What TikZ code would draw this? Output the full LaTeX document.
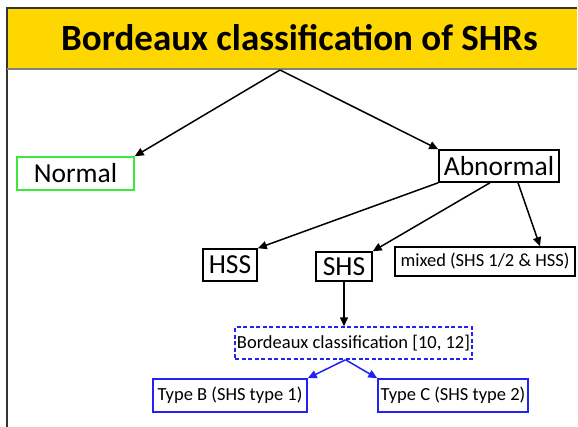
\documentclass[tikz,border=0pt]{standalone}
\usepackage{fontspec}
\setmainfont{Carlito}
\usetikzlibrary{arrows.meta,calc}
\definecolor{titleyellow}{HTML}{FFD700}
\definecolor{boxgreen}{HTML}{3CE83C}
\definecolor{boxblue}{HTML}{2222F5}
\definecolor{framegray}{HTML}{333333}
\tikzset{
  blackbox/.style={draw=black, line width=1.5pt, inner sep=0pt, align=center},
  greenbox/.style={draw=boxgreen, line width=1.5pt, inner sep=0pt, align=center},
  bluebox/.style={draw=boxblue, line width=1.5pt, inner sep=0pt, align=center},
  dashbox/.style={draw=boxblue, line width=1.5pt, dashed, dash pattern=on 4pt off 2.5pt, inner sep=0pt, align=center},
  bigtext/.style={font=\fontsize{27.5}{30}\selectfont},
  smalltext/.style={font=\fontsize{18.5}{21}\selectfont},
  blackarrow/.style={-{Triangle[length=9pt,width=8pt]}, line width=1.5pt, black},
  bluearrow/.style={-{Triangle[length=9pt,width=8pt]}, line width=1.5pt, boxblue},
}
\begin{document}
\begin{tikzpicture}[x=1pt,y={(0pt,-1pt)}]
\useasboundingbox (0,0) rectangle (578,426);
% frame and title bar
\fill[white] (0,0) rectangle (578,426);
\fill[titleyellow] (7,8) rectangle (577,68.5);
\draw[framegray, line width=1.5pt] (577,8) -- (7,8) -- (7,428);
\draw[gray, line width=1.5pt] (7,69) -- (577,69);
\node[anchor=base, font=\fontsize{37}{40}\selectfont\bfseries] (title) at (299.5,50) {Bordeaux classification of SHRs};
\coordinate (apex) at (280,70);
% nodes
\node[greenbox, bigtext, minimum width=117pt, minimum height=33pt] (normal) at (75.5,173.5) {Normal};
\node[blackbox, bigtext, minimum width=120pt, minimum height=32pt] (abn) at (499,166) {Abnormal};
\node[blackbox, bigtext, minimum width=54pt, minimum height=32pt] (hss) at (230,265) {HSS};
\node[blackbox, bigtext, minimum width=56pt, minimum height=29pt] (shs) at (344,266.5) {SHS};
\node[blackbox, smalltext, minimum width=180pt, minimum height=29pt] (mixed) at (485,261.5) {mixed (SHS 1/2 \& HSS)};
\node[dashbox, smalltext, minimum width=237pt, minimum height=32pt] (bord) at (353.5,343) {Bordeaux classification [10, 12]};
\node[bluebox, smalltext, minimum width=154pt, minimum height=33pt] (typeb) at (230,395.5) {Type B (SHS type 1)};
\node[bluebox, smalltext, minimum width=150pt, minimum height=33pt] (typec) at (453,395.5) {Type C (SHS type 2)};
% connectors
\draw[blackarrow] (apex) -- (normal.north east);
\draw[blackarrow] (apex) -- (abn.north west);
\draw[blackarrow] (abn.south west) -- (hss.north east);
\draw[blackarrow] ($(abn.south)+(-9,0)$) -- (shs.north east);
\draw[blackarrow] ($(abn.south)+(19,0)$) -- ($(mixed.north)+(55,0)$);
\draw[blackarrow] (shs.south) -- (shs.south |- bord.north);
\draw[bluearrow] ($(bord.south)+(-8,0)$) -- (typeb.north east);
\draw[bluearrow] ($(bord.south)+(-8,0)$) -- (typec.north west);
\end{tikzpicture}
\end{document}
